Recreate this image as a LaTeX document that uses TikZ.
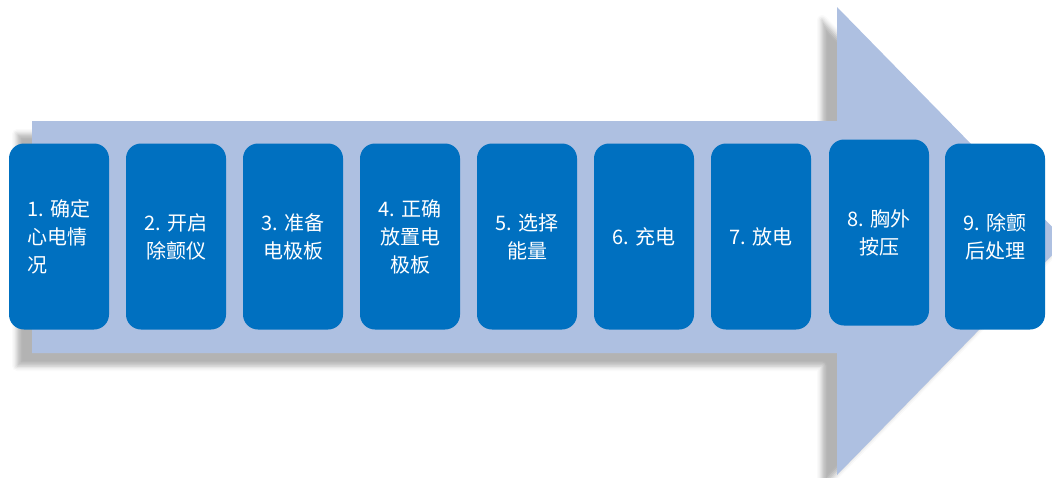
\documentclass[tikz,border=0pt]{standalone}
\usepackage{fontspec}
\newfontfamily\cjk{Noto Sans CJK SC}
\usetikzlibrary{shadows.blur}
\definecolor{arrowfill}{RGB}{174,192,225}
\definecolor{boxblue}{RGB}{0,112,192}
\begin{document}
\begin{tikzpicture}[x=1pt,y=-1pt,
  stepbox/.style={draw=none,fill=boxblue,rounded corners=15pt,minimum width=100pt,minimum height=186pt,
    text=white,font=\cjk\fontsize{20}{28}\selectfont,align=center,inner sep=0pt}]
\useasboundingbox (0,0) rectangle (1052,477);
\fill[arrowfill,blur shadow={shadow xshift=-15pt,shadow yshift=-13pt,shadow blur radius=5pt,shadow opacity=30}]
  (32,121) -- (837,121) -- (837,7) -- (1066,241) -- (837,475) -- (837,353) -- (32,353) -- cycle;
\node[stepbox,align=left] (s1) at (59,236.5) {1. 确定\\心电情\\况};
\node[stepbox] (s2) at (176,236.5) {2. 开启\\除颤仪};
\node[stepbox] (s3) at (293,236.5) {3. 准备\\电极板};
\node[stepbox] (s4) at (410,236.5) {4. 正确\\放置电\\极板};
\node[stepbox] (s5) at (527,236.5) {5. 选择\\能量};
\node[stepbox] (s6) at (644,236.5) {6. 充电};
\node[stepbox] (s7) at (761,236.5) {7. 放电};
\node[stepbox] (s8) at (879,232.5) {8. 胸外\\按压};
\node[stepbox] (s9) at (995,236.5) {9. 除颤\\后处理};
\end{tikzpicture}
\end{document}
